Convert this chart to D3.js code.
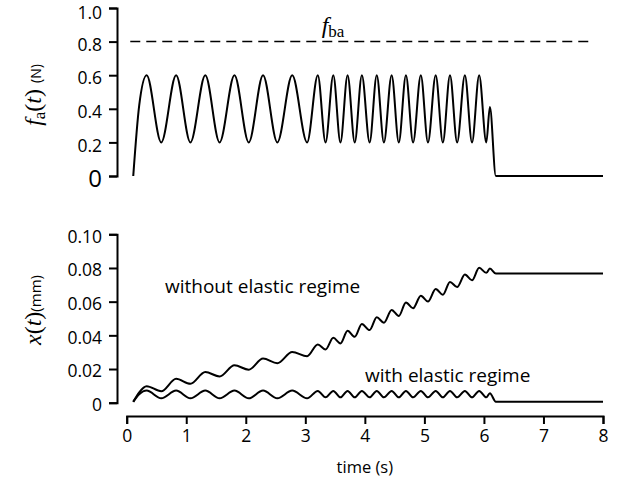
<!DOCTYPE html>
<html lang="en">
<head>
<meta charset="utf-8">
<title>Force and displacement</title>
<script src="https://cdn.jsdelivr.net/npm/d3@7"></script>
<style>
body { margin: 0; background: #fff; }
.axis path, .axis line { stroke: #000; stroke-width: 2px; }
.axis text { font-family: "Open Sans", sans-serif; font-size: 17.5px; fill: #000; }
.serif { font-family: "Liberation Serif", serif; }
.sans { font-family: "Open Sans", sans-serif; }
.curve { fill: none; stroke: #000; stroke-width: 2px; }
</style>
</head>
<body>
<svg id="svgMain" width="619" height="483"></svg>
<script>

// times of the extrema (s)
var timeS = [0.11, 0.21, 0.335, 0.58, 0.83, 1.07, 1.32, 1.56, 1.81, 2.05, 2.29, 2.53, 2.78, 3.03,
  3.21, 3.34, 3.47, 3.59, 3.71, 3.83, 3.95, 4.08, 4.20, 4.32, 4.45, 4.57, 4.69, 4.81,
  4.94, 5.06, 5.19, 5.31, 5.43, 5.55, 5.68, 5.80, 5.92, 6.04, 6.10, 6.20, 8.0];

// applied force f_a(t) (N)
var forceN = [0, 0.42, 0.6, 0.2, 0.6, 0.2, 0.6, 0.2, 0.6, 0.2, 0.6, 0.2, 0.6, 0.2,
  0.6, 0.2, 0.6, 0.2, 0.6, 0.2, 0.6, 0.2, 0.6, 0.2, 0.6, 0.2, 0.6, 0.2,
  0.6, 0.2, 0.6, 0.2, 0.6, 0.2, 0.6, 0.2, 0.6, 0.2, 0.41, 0, 0];

// displacement without elastic regime (mm)
var xFree = [0.0005, 0.0062, 0.0098, 0.0068, 0.0142, 0.0112, 0.0182, 0.0156, 0.0222, 0.0196, 0.0262, 0.0235, 0.0301, 0.0276,
  0.0346, 0.0316, 0.0385, 0.0352, 0.0427, 0.0391, 0.0467, 0.0431, 0.0507, 0.0475, 0.0551, 0.0515, 0.0595, 0.0561,
  0.0635, 0.0601, 0.0675, 0.0641, 0.0717, 0.0687, 0.0761, 0.0727, 0.0801, 0.0771, 0.0797, 0.0767, 0.0767];

// displacement with elastic regime (mm)
var xElastic = [0.0005, 0.005, 0.0072, 0.0026, 0.0072, 0.0026, 0.0072, 0.0026, 0.0072, 0.0026, 0.0072, 0.0026, 0.0072, 0.0026,
  0.0070, 0.0032, 0.0070, 0.0032, 0.0070, 0.0032, 0.0070, 0.0032, 0.0070, 0.0032, 0.0070, 0.0032, 0.0070, 0.0032,
  0.0070, 0.0032, 0.0070, 0.0032, 0.0070, 0.0032, 0.0070, 0.0032, 0.0070, 0.0032, 0.0056, 0.0006, 0.0006];

var fBa = 0.8;
var xTicks = [0, 1, 2, 3, 4, 5, 6, 7, 8];
var fTicks = [0, 0.2, 0.4, 0.6, 0.8, 1.0];
var dTicks = [0, 0.02, 0.04, 0.06, 0.08, 0.10];

var svg = d3.select("svg");

var x = d3.scaleLinear().domain([0, 8]).range([126.7, 603]);
var yF = d3.scaleLinear().domain([0, 1]).range([176, 8]);
var yD = d3.scaleLinear().domain([0, 0.1]).range([402.7, 234.3]);
var axisX = 117;

// top panel axis
var gF = svg.append("g")
    .attr("class", "axis")
    .attr("transform", "translate(" + axisX + ",0)")
    .call(d3.axisLeft(yF).tickValues(fTicks).tickSize(8).tickPadding(7)
      .tickFormat(function(d) { return d === 0 ? "0" : d3.format(".1f")(d); }));
gF.selectAll(".tick text").attr("dy", "0.5em");
gF.selectAll(".tick text").filter(function(d) { return d === 1; }).attr("dy", "0.62em");
gF.selectAll(".tick text").filter(function(d) { return d === 0; })
    .style("font-size", "24px").attr("dy", "0.42em");

// bottom panel axis
var gD = svg.append("g")
    .attr("class", "axis")
    .attr("transform", "translate(" + axisX + ",0)")
    .call(d3.axisLeft(yD).tickValues(dTicks).tickSize(8).tickPadding(7)
      .tickFormat(function(d) { return d === 0 ? "0" : d3.format(".2f")(d); }));
gD.selectAll(".tick text").attr("dy", "0.45em");

// time axis
svg.append("g")
    .attr("class", "axis")
    .attr("transform", "translate(0,416)")
    .call(d3.axisBottom(x).tickValues(xTicks).tickSize(8).tickPadding(6));

svg.append("text").attr("class", "sans")
    .attr("x", x(4)).attr("y", 473)
    .attr("text-anchor", "middle").style("font-size", "16.5px")
    .text("time (s)");

// force curve
var lineF = d3.line()
    .x(function(d, i) { return x(timeS[i]); })
    .y(function(d) { return yF(d); })
    .curve(d3.curveMonotoneX);

svg.append("path").attr("class", "curve").attr("d", lineF(forceN));

// dashed threshold
svg.append("line")
    .attr("x1", x(0.06)).attr("x2", x(7.8))
    .attr("y1", yF(fBa)).attr("y2", yF(fBa))
    .attr("stroke", "#000").attr("stroke-width", 1.5)
    .attr("stroke-dasharray", "10,6");

var fba = svg.append("text").attr("class", "serif")
    .attr("x", 333).attr("y", 33).attr("text-anchor", "middle")
    .style("font-size", "24px");
fba.append("tspan").style("font-style", "italic").text("f");
fba.append("tspan").attr("dy", 4).style("font-size", "17px").text("ba");

// displacement curves
var lineD = d3.line()
    .x(function(d, i) { return x(timeS[i]); })
    .y(function(d) { return yD(d); })
    .curve(d3.curveMonotoneX);

svg.append("path").attr("class", "curve").attr("d", lineD(xFree));
svg.append("path").attr("class", "curve").attr("d", lineD(xElastic));

svg.append("text").attr("class", "sans")
    .attr("x", 165).attr("y", 293).style("font-size", "19px")
    .text("without elastic regime");
svg.append("text").attr("class", "sans")
    .attr("x", 365).attr("y", 382).style("font-size", "19px")
    .text("with elastic regime");

// y labels
var lf = svg.append("text").attr("class", "serif")
    .attr("transform", "translate(41,95) rotate(-90)")
    .attr("text-anchor", "middle").style("font-size", "24px");
lf.append("tspan").style("font-style", "italic").text("f");
lf.append("tspan").attr("dy", 4).style("font-size", "17px").text("a");
lf.append("tspan").attr("dy", -4).text("(");
lf.append("tspan").style("font-style", "italic").text("t");
lf.append("tspan").text(") ");
lf.append("tspan").attr("class", "sans").style("font-size", "14px").text("(N)");

var lx = svg.append("text").attr("class", "serif")
    .attr("transform", "translate(41,310) rotate(-90)")
    .attr("text-anchor", "middle").style("font-size", "24px");
lx.append("tspan").style("font-style", "italic").text("x");
lx.append("tspan").text("(");
lx.append("tspan").style("font-style", "italic").text("t");
lx.append("tspan").text(")");
lx.append("tspan").attr("class", "sans").style("font-size", "15px").text("(mm)");

</script>
</body>
</html>
